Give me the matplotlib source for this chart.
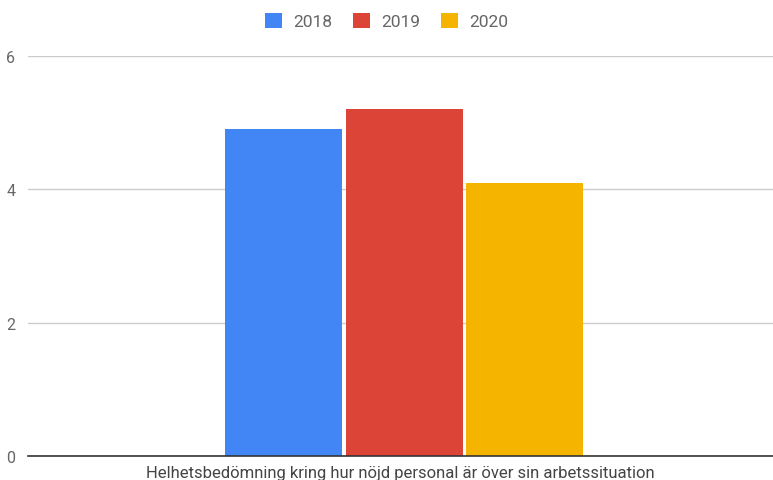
import matplotlib.pyplot as plt
from matplotlib.patches import Patch

plt.rcParams['font.family'] = ['Roboto', 'DejaVu Sans']

years = ['2018', '2019', '2020']
scores = [4.9, 5.2, 4.1]
colors = ['#4285F4', '#DB4437', '#F4B400']
category = 'Helhetsbedömning kring hur nöjd personal är över sin arbetssituation'

fig = plt.figure(figsize=(7.73, 4.81), dpi=100)
ax = fig.add_axes([0.036, 0.049, 0.964, 0.833])

width = 0.157
step = 0.162
for i, (yr, val, c) in enumerate(zip(years, scores, colors)):
    ax.bar((i - 1) * step + 0.005, val, width=width, color=c, zorder=3)

ax.set_xlim(-0.5, 0.5)
ax.set_ylim(0, 6)
ax.set_yticks([0, 2, 4, 6])
ax.set_xticks([0])
ax.set_xticklabels([category])
ax.tick_params(axis='x', length=0, labelsize=12, colors='#444444', pad=6)
ax.tick_params(axis='y', length=0, labelsize=11.5, colors='#666666', pad=9)
ax.grid(axis='y', color='#cccccc', linewidth=1, zorder=0)
for s in ['top', 'right', 'left']:
    ax.spines[s].set_visible(False)
ax.spines['bottom'].set_color('#333333')
ax.spines['bottom'].set_linewidth(1.2)
ax.spines['bottom'].set_zorder(4)

handles = [Patch(facecolor=c, label=y) for y, c in zip(years, colors)]
fig.legend(handles=handles, loc='upper center', bbox_to_anchor=(0.5, 1.004),
           ncol=3, frameon=False, fontsize=12.5, handlelength=0.98,
           handleheight=0.98, columnspacing=1.2, handletextpad=0.63,
           labelcolor='#666666')

fig.savefig('out.png', dpi=100)
